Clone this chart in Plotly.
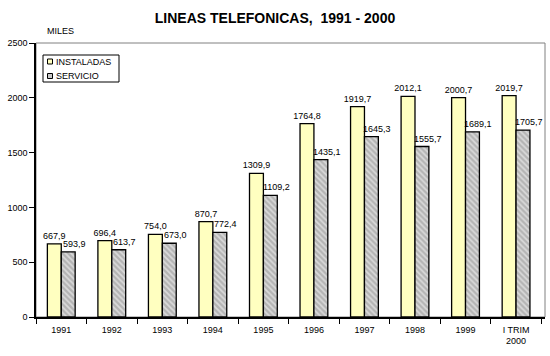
import plotly.graph_objects as go

categories = ["1991", "1992", "1993", "1994", "1995", "1996", "1997", "1998", "1999", "I TRIM<br>2000"]
instaladas = [667.9, 696.4, 754.0, 870.7, 1309.9, 1764.8, 1919.7, 2012.1, 2000.7, 2019.7]
servicio = [593.9, 613.7, 673.0, 772.4, 1109.2, 1435.1, 1645.3, 1555.7, 1689.1, 1705.7]
series_names = ["INSTALADAS", "SERVICIO"]
y_ticks = [0, 500, 1000, 1500, 2000, 2500]

def fmt(v):
    return f"{v:.1f}".replace(".", ",")

FONT = "Arial, Liberation Sans, sans-serif"
YELLOW = "#FFFFC0"
GRAY = "#B4B4B4"

W, H = 550, 356
ML, MR, MT, MB = 36, 5, 43, 39
PW, PH = W - ML - MR, H - MT - MB
BARGAP = 0.45
BARW = (1 - BARGAP) / 2

def px(x):
    return (x - ML) / PW

def py(y):
    return (H - MB - y) / PH

fig = go.Figure()
fig.add_trace(go.Bar(
    x=categories, y=instaladas, name=series_names[0],
    marker=dict(color=YELLOW, line=dict(color="black", width=1.3)),
    text=[fmt(v) for v in instaladas], textposition="outside", constraintext="none",
    textfont=dict(size=9, color="black", family=FONT), cliponaxis=False,
    hoverinfo="skip",
))
fig.add_trace(go.Bar(
    x=categories, y=servicio, name=series_names[1],
    marker=dict(color=GRAY, line=dict(color="black", width=1.3),
                pattern=dict(shape="\\", fgcolor="#FFFFFF", bgcolor="#B4B4B4", size=4, solidity=0.45)),
    hoverinfo="skip",
))

shapes = [
    dict(type="rect", xref="paper", yref="paper", x0=0, x1=1, y0=0, y1=1,
         line=dict(color="#808080", width=1), layer="below"),
    # legend box
    dict(type="rect", xref="paper", yref="paper", x0=px(43), x1=px(119), y0=py(82), y1=py(55),
         line=dict(color="black", width=1), fillcolor="white", layer="above"),
    dict(type="rect", xref="paper", yref="paper", x0=px(47.5), x1=px(52.5), y0=py(64), y1=py(59),
         line=dict(color="black", width=1), fillcolor=YELLOW, layer="above"),
    dict(type="rect", xref="paper", yref="paper", x0=px(47.5), x1=px(52.5), y0=py(78.5), y1=py(73.5),
         line=dict(color="black", width=1), fillcolor="#C8C8C8", layer="above"),
]
annotations = [
    dict(text="MILES", xref="paper", yref="paper", x=px(45), y=py(31),
         xanchor="left", yanchor="middle", showarrow=False, font=dict(size=9, family=FONT)),
    dict(text=series_names[0], xref="paper", yref="paper", x=px(53.5), y=py(62),
         xanchor="left", yanchor="middle", showarrow=False, font=dict(size=9, family=FONT)),
    dict(text=series_names[1], xref="paper", yref="paper", x=px(53.5), y=py(76),
         xanchor="left", yanchor="middle", showarrow=False, font=dict(size=9, family=FONT)),
]
# value labels of the second series, slightly offset to the right as in the original
for i, v in enumerate(servicio):
    annotations.append(dict(
        text=fmt(v), xref="x", yref="y", x=i + BARW / 2, y=v,
        xanchor="center", yanchor="bottom", xshift=6, yshift=1, showarrow=False,
        font=dict(size=9, family=FONT, color="black")))

fig.update_layout(
    width=W, height=H,
    margin=dict(l=ML, r=MR, t=MT, b=MB, autoexpand=False),
    paper_bgcolor="white", plot_bgcolor="white",
    barmode="group", bargap=BARGAP, bargroupgap=0,
    font=dict(family=FONT, size=9, color="black"),
    title=dict(text="<b>LINEAS TELEFONICAS,  1991 - 2000</b>", x=0.5, xanchor="center",
               y=1 - 18 / H, yanchor="middle", font=dict(size=14, family=FONT, color="black")),
    showlegend=False,
    hovermode=False,
    annotations=annotations,
    shapes=shapes,
)
fig.update_xaxes(showline=True, linecolor="black", linewidth=1.5, ticks="outside",
                 tickson="boundaries", ticklen=5, tickcolor="black", tickwidth=1.2,
                 ticklabelstandoff=3, automargin=False, tickfont=dict(size=9, family=FONT))
fig.update_yaxes(range=[0, 2500], tickvals=y_ticks, showline=True, linecolor="black",
                 linewidth=1.5, ticks="outside", ticklen=5, tickcolor="black", tickwidth=1.2,
                 showgrid=False, zeroline=False, automargin=False,
                 tickfont=dict(size=9, family=FONT))

fig.write_html("out.html", config={"displayModeBar": False},
               post_script="document.body.style.margin='0';")
